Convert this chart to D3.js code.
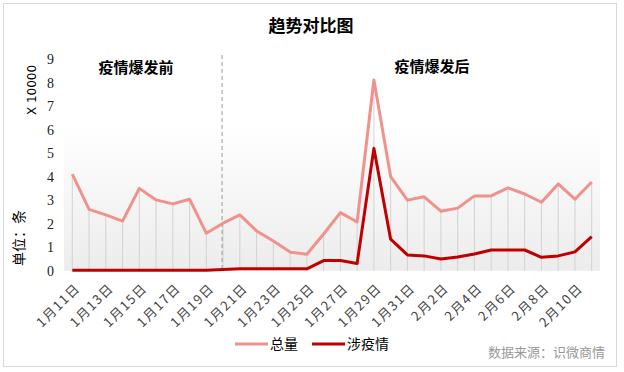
<!DOCTYPE html>
<html>
<head>
<meta charset="utf-8">
<script src="https://cdn.jsdelivr.net/npm/d3@7"></script>
<style>
  body { margin: 0; background: #fff; }
  svg { display: block; }
</style>
</head>
<body>
<svg width="624" height="372"></svg>
<script>
// 日期 (1月11日 - 2月11日)
const dates = ["1月11日","1月12日","1月13日","1月14日","1月15日","1月16日","1月17日","1月18日","1月19日","1月20日",
  "1月21日","1月22日","1月23日","1月24日","1月25日","1月26日","1月27日","1月28日","1月29日","1月30日","1月31日",
  "2月1日","2月2日","2月3日","2月4日","2月5日","2月6日","2月7日","2月8日","2月9日","2月10日","2月11日"];
// 总量 (x 10000)
const totalVals = [4.11, 2.61, 2.37, 2.11, 3.5, 3.01, 2.84, 3.04, 1.59, 2.02,
  2.37, 1.69, 1.26, 0.79, 0.7, 1.56, 2.47, 2.07, 8.11, 4.0, 3.0,
  3.14, 2.53, 2.66, 3.18, 3.18, 3.52, 3.26, 2.91, 3.69, 3.04, 3.77];
// 涉疫情 (x 10000)
const epiVals = [0.02, 0.02, 0.02, 0.02, 0.02, 0.02, 0.02, 0.02, 0.02, 0.05,
  0.08, 0.08, 0.08, 0.08, 0.08, 0.43, 0.43, 0.31, 5.2, 1.34, 0.67,
  0.63, 0.5, 0.58, 0.71, 0.88, 0.88, 0.88, 0.57, 0.63, 0.8, 1.45];
const yTicks = [0, 1, 2, 3, 4, 5, 6, 7, 8, 9];
const splitDate = "1月20日";

const svg = d3.select("svg");

// 外框
svg.append("rect")
  .attr("x", 3.5).attr("y", 3.5).attr("width", 613).attr("height", 363)
  .attr("fill", "#fff").attr("stroke", "#d9d9d9");

const x = d3.scalePoint().domain(dates).range([72.3, 591.7]);
const y = d3.scaleLinear().domain([0, 9]).range([270.7, 59]);

// 背景渐变
const defs = svg.append("defs");
const grad = defs.append("linearGradient")
  .attr("id", "bg").attr("x1", 0).attr("y1", 0).attr("x2", 0).attr("y2", 1);
grad.append("stop").attr("offset", "0").attr("stop-color", "#ffffff");
grad.append("stop").attr("offset", "1").attr("stop-color", "#ececec");

svg.append("rect")
  .attr("x", 64).attr("y", 123).attr("width", 536).attr("height", y(0) - 123)
  .attr("fill", "url(#bg)");

// 标题
svg.append("text")
  .attr("x", 311).attr("y", 32)
  .attr("text-anchor", "middle")
  .style("font-family", "Noto Sans CJK SC")
  .style("font-weight", "bold")
  .style("font-size", "17px")
  .text("趋势对比图");

// 垂直线
svg.selectAll(".drop")
  .data(dates)
  .enter()
  .append("line")
  .attr("class", "drop")
  .attr("x1", d => x(d)).attr("x2", d => x(d))
  .attr("y1", (d, i) => y(totalVals[i]))
  .attr("y2", y(0))
  .attr("stroke", "#d2d2d2")
  .attr("stroke-width", 1);

// 分隔虚线
svg.append("line")
  .attr("x1", x(splitDate) - 1).attr("x2", x(splitDate) - 1)
  .attr("y1", 55).attr("y2", y(0))
  .attr("stroke", "#999")
  .attr("stroke-dasharray", "4,3")
  .attr("stroke-width", 1);

// Y轴
const yAxis = svg.append("g")
  .attr("transform", "translate(58,0)")
  .call(d3.axisLeft(y).tickValues(yTicks).tickSize(0).tickPadding(4));
yAxis.select(".domain").remove();
yAxis.selectAll("text")
  .style("font-family", "Liberation Serif")
  .style("font-size", "14px")
  .attr("fill", "#222");

// X轴
const xAxis = svg.append("g")
  .attr("transform", `translate(0,${y(0)})`)
  .call(d3.axisBottom(x).tickValues(dates.filter((d, i) => i % 2 === 0)).tickSize(0));
xAxis.select(".domain").remove();
xAxis.selectAll("text")
  .attr("text-anchor", "end")
  .attr("transform", "translate(5,15) rotate(-45)")
  .attr("dy", "0.35em")
  .attr("y", 0)
  .style("font-family", "Noto Sans CJK SC")
  .style("font-size", "13px")
  .style("letter-spacing", "1.5px")
  .attr("fill", "#444");

// 折线
const line = d3.line().x(d => x(d[0])).y(d => y(d[1]));
svg.append("path")
  .datum(dates.map((d, i) => [d, totalVals[i]]))
  .attr("d", line)
  .attr("fill", "none")
  .attr("stroke", "#f0928b")
  .attr("stroke-width", 3)
  .attr("stroke-linejoin", "round");
svg.append("path")
  .datum(dates.map((d, i) => [d, epiVals[i]]))
  .attr("d", line)
  .attr("fill", "none")
  .attr("stroke", "#c00000")
  .attr("stroke-width", 3)
  .attr("stroke-linejoin", "round");

// 标注
svg.append("text")
  .attr("x", 136).attr("y", 73)
  .attr("text-anchor", "middle")
  .style("font-family", "Noto Sans CJK SC")
  .style("font-weight", "bold")
  .style("font-size", "15px")
  .text("疫情爆发前");
svg.append("text")
  .attr("x", 432).attr("y", 72)
  .attr("text-anchor", "middle")
  .style("font-family", "Noto Sans CJK SC")
  .style("font-weight", "bold")
  .style("font-size", "15px")
  .text("疫情爆发后");

// 单位
svg.append("text")
  .attr("transform", "translate(36,90) rotate(-90)")
  .attr("text-anchor", "middle")
  .style("font-family", "DejaVu Sans")
  .style("font-size", "12px")
  .text("X 10000");
svg.append("text")
  .attr("transform", "translate(24,238) rotate(-90)")
  .attr("text-anchor", "middle")
  .style("font-family", "Noto Sans CJK SC")
  .style("font-size", "14px")
  .text("单位：条");

// 图例
const legend = [["总量", "#f0928b", 235], ["涉疫情", "#c00000", 312]];
legend.forEach(l => {
  svg.append("line")
    .attr("x1", l[2]).attr("x2", l[2] + 33)
    .attr("y1", 344).attr("y2", 344)
    .attr("stroke", l[1]).attr("stroke-width", 3);
  svg.append("text")
    .attr("x", l[2] + 35).attr("y", 349)
    .style("font-family", "Noto Sans CJK SC")
    .style("font-size", "14px")
    .text(l[0]);
});

// 数据来源
svg.append("text")
  .attr("x", 605).attr("y", 357)
  .attr("text-anchor", "end")
  .style("font-family", "Noto Sans CJK SC")
  .style("font-size", "13px")
  .attr("fill", "#999")
  .text("数据来源：识微商情");
</script>
</body>
</html>
